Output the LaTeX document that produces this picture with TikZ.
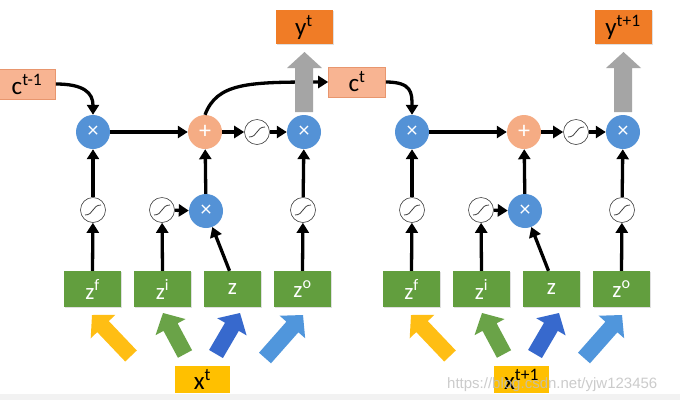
\documentclass[tikz,border=0pt]{standalone}
\usepackage{fontspec}
\setmainfont{Carlito}
\newfontfamily\wmfont{Liberation Sans}
\usetikzlibrary{arrows.meta,calc,shadows}
\definecolor{cblue}{RGB}{84,146,214}
\definecolor{cplus}{RGB}{245,172,132}
\definecolor{cbox}{RGB}{248,180,146}
\definecolor{cboxd}{RGB}{232,150,110}
\definecolor{ybox}{RGB}{240,124,38}
\definecolor{zgreen}{RGB}{98,158,62}
\definecolor{xyel}{RGB}{255,192,0}
\definecolor{ayel}{RGB}{255,190,20}
\definecolor{agreen}{RGB}{106,163,72}
\definecolor{adblue}{RGB}{55,105,205}
\definecolor{alblue}{RGB}{80,150,220}
\definecolor{agray}{RGB}{165,165,165}
\newcommand\supx[1]{\textsuperscript{#1}}
\newcommand\blockarr[3]{%
  \coordinate (ba-h) at ($(#2)!16pt!(#1)$);
  \fill[#3] ($(#1)!8pt!90:(#2)$) -- ($(ba-h)!8pt!90:(#2)$) -- ($(ba-h)!17pt!90:(#2)$) -- (#2)
    -- ($(ba-h)!17pt!-90:(#2)$) -- ($(ba-h)!8pt!-90:(#2)$) -- ($(#1)!8pt!-90:(#2)$) -- cycle;}
\begin{document}
\begin{tikzpicture}[x=1pt,y=-1pt,
  mul/.style={circle, fill=cblue, minimum size=34pt, inner sep=0pt, text=white, font=\fontsize{22}{22}\selectfont},
  add/.style={circle, fill=cplus, minimum size=34pt, inner sep=0pt, text=white, font=\fontsize{24}{24}\selectfont},
  sig/.style={circle, draw=black!75, fill=white, minimum size=25pt, inner sep=0pt, line width=0.6pt,
    path picture={\draw[line width=0.8pt] ([xshift=-8pt,yshift=-5pt]path picture bounding box.center)
      .. controls +(9pt,0pt) and +(-9pt,0pt) .. ([xshift=8pt,yshift=5pt]path picture bounding box.center);}},
  cbx/.style={rectangle, fill=cbox, draw=cboxd, line width=0.6pt, minimum width=57pt, minimum height=30pt, inner sep=0pt, font=\fontsize{25}{25}\selectfont},
  ybx/.style={rectangle, fill=ybox, minimum width=57pt, minimum height=34pt, inner sep=0pt, font=\fontsize{25}{25}\selectfont,
    drop shadow={opacity=0.25, shadow xshift=1pt, shadow yshift=-1pt}},
  zbx/.style={rectangle, fill=zgreen, minimum width=57pt, minimum height=36pt, inner sep=0pt, text=white, font=\fontsize{23}{23}\selectfont,
    drop shadow={opacity=0.25, shadow xshift=1pt, shadow yshift=-1pt}},
  xbx/.style={rectangle, fill=xyel, minimum width=55pt, minimum height=27pt, inner sep=0pt, font=\fontsize{25}{25}\selectfont},
  conn/.style={line width=3.3pt, -{Triangle[length=10pt,width=12pt]}},
]
\useasboundingbox (0,0) rectangle (680,400);
\fill[white] (0,0) rectangle (680,400);
\fill[black!5] (0,394) rectangle (680,400);

% ---------- left cell ----------
\node[cbx] (cprev) at (27,84) {c\supx{t-1}};
\node[ybx] (yt) at (304,27) {y\supx{t}};
\node[cbx] (ct) at (357,82) {c\supx{t}};

\node[mul] (m1) at (93,132) {×};
\node[add] (p1) at (205,132) {+};
\node[sig] (s1) at (257,132) {};
\node[mul] (m2) at (304,132) {×};

\node[sig] (sf) at (93,210) {};
\node[sig] (si) at (162,210) {};
\node[mul] (mi) at (206,211) {×};
\node[sig] (so) at (303,210) {};

\node[zbx] (zf) at (92.5,289) {z\supx{f}};
\node[zbx] (zi) at (162.5,289) {z\supx{i}};
\node[zbx] (zz) at (232.5,289) {z};
\node[zbx] (zo) at (302.5,289) {z\supx{o}};

\node[xbx] (xt) at (202.5,379.5) {x\supx{t}};

\draw[conn] (cprev.east) .. controls +(28,0) and +(0,-22) .. (m1.north);
\draw[conn] (m1) -- (p1);
\draw[conn] (p1) -- (s1);
\draw[conn] (s1) -- (m2);
\draw[conn] (sf) -- (m1);
\draw[conn] (mi) -- (p1);
\draw[conn] (so) -- (m2);
\draw[conn] (si) -- (mi);
\draw[conn] (zf.north) -- (sf);
\draw[conn] (zi.north) -- (si);
\draw[conn] (zo.north) -- (so);
\draw[conn] ([xshift=-3pt]zz.north) -- (mi);
\draw[conn] (p1.north) .. controls +(12,-32) and +(-80,0) .. (ct.west);

\fill[agray] (295,112) -- (295,68) -- (287,68) -- (304.5,52) -- (322,68) -- (313,68) -- (313,112) -- cycle;

\coordinate (t1) at (131,356); \coordinate (h1) at (92,315);
\coordinate (t2) at (185,354); \coordinate (h2) at (163,313);
\coordinate (t3) at (216,354); \coordinate (h3) at (240,313);
\coordinate (t4) at (265,358); \coordinate (h4) at (303,315);
\blockarr{t1}{h1}{ayel}
\blockarr{t2}{h2}{agreen}
\blockarr{t3}{h3}{adblue}
\blockarr{t4}{h4}{alblue}

% ---------- right cell ----------
\node[ybx] (yt2) at (623,27) {y\supx{t+1}};

\node[mul] (rm1) at (412,132) {×};
\node[add] (rp1) at (524,132) {+};
\node[sig] (rs1) at (576,132) {};
\node[mul] (rm2) at (623,132) {×};

\node[sig] (rsf) at (412,210) {};
\node[sig] (rsi) at (481,210) {};
\node[mul] (rmi) at (525,211) {×};
\node[sig] (rso) at (622,210) {};

\node[zbx] (rzf) at (411.5,289) {z\supx{f}};
\node[zbx] (rzi) at (481.5,289) {z\supx{i}};
\node[zbx] (rzz) at (551.5,289) {z};
\node[zbx] (rzo) at (621.5,289) {z\supx{o}};

\node[xbx] (xt2) at (521.5,379.5) {x\supx{t+1}};

\draw[conn] (ct.east) .. controls +(26,0) and +(0,-22) .. (rm1.north);
\draw[conn] (rm1) -- (rp1);
\draw[conn] (rp1) -- (rs1);
\draw[conn] (rs1) -- (rm2);
\draw[conn] (rsf) -- (rm1);
\draw[conn] (rmi) -- (rp1);
\draw[conn] (rso) -- (rm2);
\draw[conn] (rsi) -- (rmi);
\draw[conn] (rzf.north) -- (rsf);
\draw[conn] (rzi.north) -- (rsi);
\draw[conn] (rzo.north) -- (rso);
\draw[conn] ([xshift=-3pt]rzz.north) -- (rmi);

\fill[agray] (614,112) -- (614,68) -- (606,68) -- (623.5,52) -- (641,68) -- (632,68) -- (632,112) -- cycle;

\coordinate (rt1) at (450,356); \coordinate (rh1) at (411,315);
\coordinate (rt2) at (504,354); \coordinate (rh2) at (482,313);
\coordinate (rt3) at (535,354); \coordinate (rh3) at (559,313);
\coordinate (rt4) at (584,358); \coordinate (rh4) at (622,315);
\blockarr{rt1}{rh1}{ayel}
\blockarr{rt2}{rh2}{agreen}
\blockarr{rt3}{rh3}{adblue}
\blockarr{rt4}{rh4}{alblue}

% watermark
\node[anchor=base west, inner sep=0pt, text=black!25, opacity=0.8, font=\wmfont\fontsize{15}{15}\selectfont] (wm) at (447,388) {https://blog.csdn.net/yjw123456};
\end{tikzpicture}
\end{document}
